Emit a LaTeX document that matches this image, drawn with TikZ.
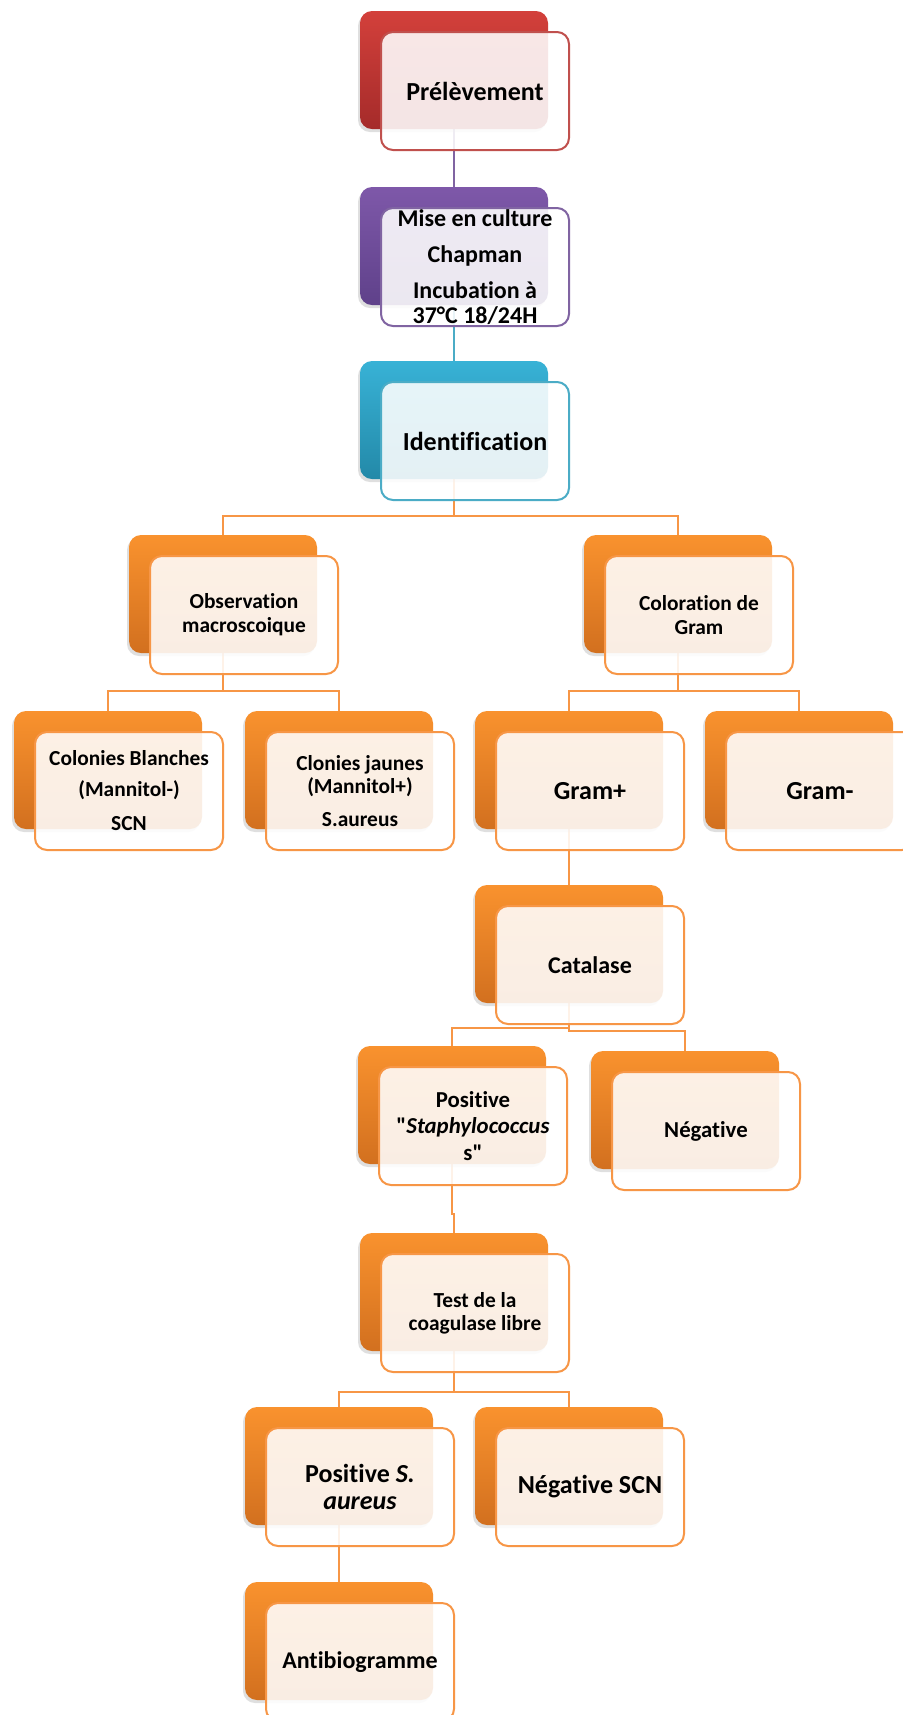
\documentclass[tikz,border=0pt]{standalone}
\usepackage{fontspec}
\setmainfont{Carlito}[Ligatures={TeXOff,NoCommon}]
\usepackage{tikz}
\usetikzlibrary{shadows,backgrounds}
\definecolor{redtop}{HTML}{D3403B}
\definecolor{redbot}{HTML}{A52B2A}
\definecolor{purpletop}{HTML}{7E58A9}
\definecolor{purplebot}{HTML}{5F418A}
\definecolor{aquatop}{HTML}{38B2D6}
\definecolor{aquabot}{HTML}{2389A8}
\definecolor{orangetop}{HTML}{F9922E}
\definecolor{orangebot}{HTML}{D2701F}
\definecolor{redline}{HTML}{C0504D}
\definecolor{purpleline}{HTML}{8064A2}
\definecolor{aqualine}{HTML}{4BACC6}
\definecolor{orangeline}{HTML}{F79646}

\begin{document}
\begin{tikzpicture}[x=0.5pt,y=-0.5pt,
  every node/.style={inner sep=0pt},
  back/.style={rounded corners=6pt,minimum width=94pt,minimum height=59pt,
    drop shadow={shadow xshift=-1pt,shadow yshift=-1.5pt,opacity=0.25}},
  backred/.style={back,top color=redtop,bottom color=redbot},
  backpurple/.style={back,top color=purpletop,bottom color=purplebot},
  backaqua/.style={back,top color=aquatop,bottom color=aquabot},
  backorange/.style={back,top color=orangetop,bottom color=orangebot},
  face/.style={rounded corners=6pt,draw=#1,line width=1pt,fill=white,
    fill opacity=0.88,text opacity=1,minimum width=94pt,minimum height=59pt,
    align=center},
  face/.default=orangeline,
  link/.style={line width=1pt,draw=#1},
  link/.default=orangeline,
  fbig/.style={font=\bfseries\fontsize{13}{13.5}\selectfont},
  fmid/.style={font=\bfseries\fontsize{12}{12.5}\selectfont},
  fsma/.style={font=\bfseries\fontsize{11.4}{13.3}\selectfont},
  fsml/.style={font=\bfseries\fontsize{10.7}{12}\selectfont}]
  \useasboundingbox (0,0) rectangle (903,1715);

  % back cards
  \node[backred]    (prel)  at (454,70)   {};
  \node[backpurple] (mise)  at (454,246)  {};
  \node[backaqua]   (ident) at (454,420)  {};
  \node[backorange] (obs)   at (223,594)  {};
  \node[backorange] (gram)  at (678,594)  {};
  \node[backorange] (blanc) at (108,770)  {};
  \node[backorange] (jaune) at (339,770)  {};
  \node[backorange] (gpos)  at (569,770)  {};
  \node[backorange] (gneg)  at (799,770)  {};
  \node[backorange] (cata)  at (569,944)  {};
  \node[backorange] (staph) at (452,1105) {};
  \node[backorange] (negc)  at (685,1110) {};
  \node[backorange] (coag)  at (454,1292) {};
  \node[backorange] (saur)  at (339,1466) {};
  \node[backorange] (scn)   at (569,1466) {};
  \node[backorange] (anti)  at (339,1641) {};

  % links
  \begin{pgfonlayer}{background}
    \fill[white] (0,0) rectangle (903,1715);
    \draw[link=purpleline] (prel.south) -- (mise.north);
    \draw[link=aqualine] (mise.south) -- (ident.north);
    \draw[link] (ident.south) -- ++(0,37) -| (obs.north);
    \draw[link] (ident.south) -- ++(0,37) -| (gram.north);
    \draw[link] (obs.south) -- ++(0,38) -| (blanc.north);
    \draw[link] (obs.south) -- ++(0,38) -| (jaune.north);
    \draw[link] (gram.south) -- ++(0,38) -| (gpos.north);
    \draw[link] (gram.south) -- ++(0,38) -| (gneg.north);
    \draw[link] (gpos.south) -- (cata.north);
    \draw[link] (cata.south) -- ++(0,25) -| (staph.north);
    \draw[link] (cata.south) -- ++(0,28) -| (negc.north);
    \draw[link] (staph.south) -- ++(0,50) -| (coag.north);
    \draw[link] (coag.south) -- ++(0,41) -| (saur.north);
    \draw[link] (coag.south) -- ++(0,41) -| (scn.north);
    \draw[link] (saur.south) -- (anti.north);
  \end{pgfonlayer}

  % front cards
  \node[face=redline,fbig] (prelF) at ([shift={(21,21)}]prel) {Prélèvement};
  \node[face=purpleline,fmid] (miseF) at ([shift={(21,21)}]mise)
    {Mise en culture\\[5.5pt]Chapman\\[5.5pt]Incubation à\\37°C 18/24H};
  \node[face=aqualine,fbig] (identF) at ([shift={(21,21)}]ident) {Identification};
  \node[face,fsml] (obsF) at ([shift={(21,21)}]obs) {Observation\\macroscoique};
  \node[face,fsml] (gramF) at ([shift={(21,21)}]gram) {Coloration de\\Gram};
  \node[face,fsml] (blancF) at ([shift={(21,21)}]blanc)
    {Colonies Blanches\\[3.5pt](Mannitol-)\\[5pt]SCN};
  \node[face,fsml] (jauneF) at ([shift={(21,21)}]jaune)
    {Clonies jaunes\\[-0.5pt](Mannitol+)\\[4.5pt]S.aureus};
  \node[face,fbig] (gposF) at ([shift={(21,21)}]gpos) {Gram+};
  \node[face,fbig] (gnegF) at ([shift={(21,21)}]gneg) {Gram-};
  \node[face,fmid] (cataF) at ([shift={(21,21)}]cata) {Catalase};
  \node[face,fsma] (staphF) at ([shift={(21,21)}]staph)
    {Positive\\"\textit{Staphylococcus}\\s"};
  \node[face,fsma] (negcF) at ([shift={(21,21)}]negc) {Négative};
  \node[face,fsml] (coagF) at ([shift={(21,21)}]coag)
    {Test de la\\[-0.5pt]coagulase libre};
  \node[face,fbig] (saurF) at ([shift={(21,21)}]saur)
    {Positive \textit{S.}\\\textit{aureus}};
  \node[face,fbig] (scnF) at ([shift={(21,21)}]scn) {Négative SCN};
  \node[face,fmid] (antiF) at ([shift={(21,21)}]anti) {Antibiogramme};
\end{tikzpicture}
\end{document}
